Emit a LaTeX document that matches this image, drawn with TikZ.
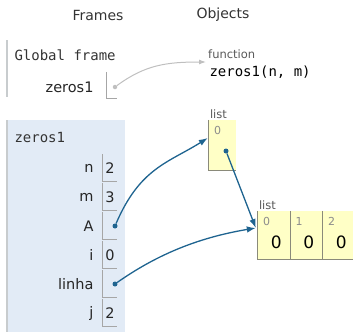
\documentclass[tikz,border=0pt]{standalone}
\usepackage{fontspec}
\setmainfont{DejaVu Sans}
\setmonofont{DejaVu Sans Mono}
\usepackage{tikz}
\usetikzlibrary{arrows.meta,positioning}

\definecolor{framebg}{HTML}{E2EBF6}
\definecolor{framebar}{HTML}{C8CCCE}
\definecolor{heapbg}{HTML}{FFFFC6}
\definecolor{heapline}{HTML}{8A8A7A}
\definecolor{ptrcol}{HTML}{1F6490}
\definecolor{headcol}{HTML}{333333}

\tikzset{
  header/.style={font=\fontsize{14}{16}\selectfont, text=headcol},
  frametitle/.style={anchor=west, font=\ttfamily\fontsize{14}{16}\selectfont, text=headcol},
  varname/.style={anchor=east, font=\fontsize{14.5}{17}\selectfont, text=black!85},
  valbox/.style={minimum width=14pt, minimum height=27pt, inner sep=0pt,
    font=\fontsize{14.5}{17}\selectfont, text=black!85},
  boxline/.style={draw=black!35, line width=0.8pt},
  typelabel/.style={anchor=south west, inner sep=1pt, font=\fontsize{11.5}{13}\selectfont, text=black!65},
  heapbox/.style={fill=heapbg, inner sep=0pt},
  heapline/.style={draw=heapline, line width=0.9pt},
  idx/.style={anchor=north west, inner sep=0pt, font=\fontsize{11}{13}\selectfont, text=black!45},
  bigval/.style={font=\fontsize{17}{20}\selectfont, text=black},
  dotmark/.style={circle, fill=ptrcol, inner sep=0pt, minimum size=5pt},
  pointer/.style={ptrcol, line width=1.3pt, -{Latex[length=9pt,width=6.5pt]}},
}

\begin{document}
\begin{tikzpicture}[x=1pt,y=-1pt]
\useasboundingbox (0,0) rectangle (353,332);

\node[header] (frames) at (98,15) {Frames};
\node[header] (objects) at (223,15) {Objects};

% global frame
\fill[framebar] (6,40) rectangle (7.8,97);
\node[frametitle] (gtitle) at (11,55) {Global frame};
\node[varname] (gname) at (97,87) {zeros1};
\node[valbox, minimum width=10pt, minimum height=26pt] (gval) at (112,85) {};
\draw[boxline] (gval.north west) -- (gval.south west) -- (gval.south east);
\node[dotmark, fill=black!25, minimum size=4.5pt] (gdot) at (115,87) {};

% function object
\node[typelabel] (ftype) at (207,60) {function};
\node[frametitle, text=black] (func) at (206,72) {zeros1(n, m)};
\coordinate (fin) at (206,62);
\draw[black!25, line width=1pt, -{Latex[length=7pt,width=5pt]}]
  (gdot) .. controls +(30,-22) and +(-40,0) .. (fin);

% zeros1 frame
\fill[framebg] (6,120) rectangle (125,332);
\fill[framebar] (6,120) rectangle (7.8,332);
\node[frametitle] (ftitle) at (11,137) {zeros1};
\foreach \vname/\val/\y [count=\i] in {n/2/168, m/3/197, A//226, i/0/255, linha//284, j/2/313}{
  \node[varname] (name\i) at (97,\y) {\vname};
  \node[valbox] (val\i) at (110,\y) {\val};
  \draw[boxline] (val\i.north west) -- (val\i.south west) -- (val\i.south east);
}
\node[dotmark] (adot) at (115,226) {};
\node[dotmark] (ldot) at (115,284) {};

% list A
\node[heapbox, minimum width=27pt, minimum height=50pt] (outer) at (222.5,145) {};
\draw[heapline] (outer.north west) -- (outer.south west) -- (outer.south east);
\node[typelabel] (otype) at (outer.north west) {list};
\node[idx] (oidx) at ([xshift=5pt,yshift=-6pt]outer.north west) {0};
\node[dotmark] (odot) at (226,151) {};

% list linha
\foreach \k in {0,1,2}{
  \node[heapbox, minimum width=32.5pt, minimum height=48pt] (cell\k) at ({274.25+32.5*\k},235) {};
  \draw[heapline] (cell\k.north west) -- (cell\k.south west) -- (cell\k.south east);
  \node[idx] (cidx\k) at ([xshift=5pt,yshift=-6pt]cell\k.north west) {\k};
  \node[bigval] (cval\k) at ([xshift=2pt,yshift=-7pt]cell\k.center) {0};
}
\node[typelabel] (rtype) at (cell0.north west) {list};

% pointers
\draw[pointer] (adot) .. controls +(25,-58) and +(-40,25) .. ([xshift=-1pt,yshift=7pt]outer.west);
\draw[pointer] (odot) -- ([xshift=-2pt,yshift=7pt]cell0.west);
\draw[pointer] (ldot) .. controls +(40,-28) and +(-60,10) .. ([xshift=-2pt,yshift=7pt]cell0.west);
\end{tikzpicture}
\end{document}
